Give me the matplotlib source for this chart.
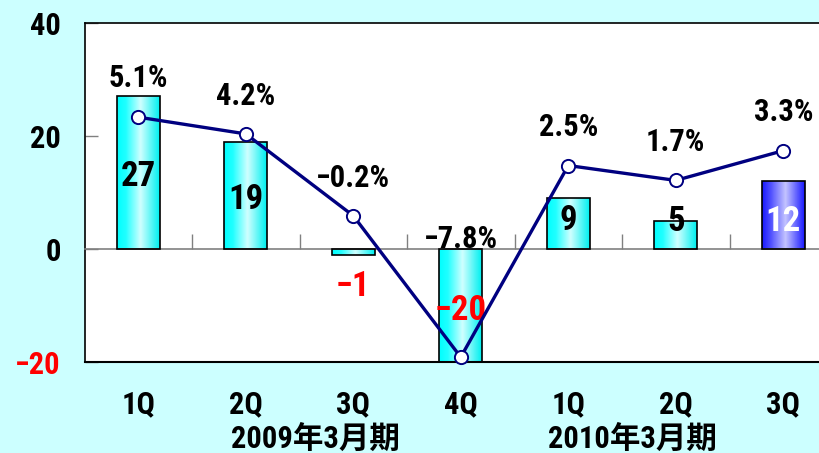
import numpy as np
import matplotlib
matplotlib.use("Agg")
import matplotlib.pyplot as plt
from matplotlib.colors import LinearSegmentedColormap
from matplotlib import font_manager

quarters = ["1Q", "2Q", "3Q", "4Q", "1Q", "2Q", "3Q"]
periods = ["2009年3月期", "2010年3月期"]
period_x = [1.65, 4.6]
profit = [27, 19, -1, -20, 9, 5, 12]
growth = [5.1, 4.2, -0.2, -7.8, 2.5, 1.7, 3.3]
growth_labels = ["5.1%", "4.2%", "−0.2%", "−7.8%", "2.5%", "1.7%", "3.3%"]
# where the number inside / under each bar sits (data units)
value_label_y = [12.9, 8.7, -6.7, -10.8, 5.1, 4.8, 4.8]
# vertical offset of the percent labels (points)
growth_offset = [28, 27, 27, 85, 28, 28, 28]

# look for a narrow face, the original uses a condensed gothic
fonts = font_manager.fontManager.ttflist
names = {f.name for f in fonts}
stretch = "normal"
base = "DejaVu Sans"
for cand in ["Liberation Sans Narrow", "Roboto Condensed", "Open Sans Condensed", "DejaVu Sans Condensed"]:
    if cand in names:
        base = cand
        break
else:
    if any(f.name == "DejaVu Sans" and str(f.stretch) in ("condensed", "semi-condensed", "75", "87")
           for f in fonts):
        stretch = "condensed"

plt.rcParams['font.family'] = [base, 'Noto Sans CJK JP']
plt.rcParams['font.weight'] = 'bold'
plt.rcParams['font.stretch'] = stretch

bg = "#ccffff"
fig = plt.figure(figsize=(8.19, 4.53), dpi=100, facecolor=bg)
ax = fig.add_axes([0.1032, 0.2009, 0.9188, 0.7483])
ax.set_facecolor("white")

x = np.arange(len(profit))
bars = ax.bar(x, profit, width=0.4, facecolor="none", edgecolor="black", linewidth=1.2, zorder=3)

cyan = LinearSegmentedColormap.from_list("c", [(0, "#00ffff"), (0.2, "#20ffff"), (0.55, "#d0ffff"), (1, "#00f0f0")])
blue = LinearSegmentedColormap.from_list("b", [(0, "#1a1aff"), (0.2, "#5050ff"), (0.55, "#c4c4ff"), (1, "#1a1aff")])
grad = np.linspace(0, 1, 64).reshape(1, -1)
for i, b in enumerate(bars):
    cmap = blue if i == len(bars) - 1 else cyan
    y0, y1 = sorted([b.get_y(), b.get_y() + b.get_height()])
    im = ax.imshow(grad, cmap=cmap, aspect="auto", zorder=2,
                   extent=[b.get_x(), b.get_x() + b.get_width(), y0, y1])
    im.set_clip_path(b)

ax.set_xlim(-0.5, len(profit) - 0.5)
ax.set_ylim(-20, 40)
ax.set_yticks([40, 20, 0, -20])
ax.set_yticklabels(["40", "20", "0", "−20"], fontsize=22, fontweight="bold")
ax.get_yticklabels()[-1].set_color("red")
ax.tick_params(axis="y", direction="in", length=9, width=1, color="gray", pad=17)

# zero line with separators between quarters
ax.spines["bottom"].set_position(("data", 0))
ax.spines["bottom"].set_color("gray")
ax.spines["bottom"].set_linewidth(1.2)
ax.set_xticks(x[:-1] + 0.5)
ax.set_xticklabels([])
ax.tick_params(axis="x", direction="in", length=11, width=1, color="gray")
ax.axhline(-20, color="black", lw=1.5, zorder=5, clip_on=False)
for s in ["left", "top"]:
    ax.spines[s].set_linewidth(1.2)
ax.spines["right"].set_visible(False)

for i, v in enumerate(profit):
    col = "red" if v < 0 else ("white" if i == len(profit) - 1 else "black")
    ax.text(i, value_label_y[i], str(v).replace("-", "−"), ha="center", va="center", fontsize=25,
            fontweight="bold", color=col, zorder=10)

tr = ax.get_xaxis_transform()
for i, q in enumerate(quarters):
    ax.text(i, -0.124, q, transform=tr, ha="center", va="center", fontsize=22, fontweight="bold")
for px, p in zip(period_x, periods):
    ax.text(px, -0.228, p, transform=tr, ha="center", va="center", fontsize=22, fontweight="bold")

ax2 = ax.twinx()
ax2.set_ylim(-8.06, 10.16)
ax2.plot(x, growth, color="#000080", lw=2.4, marker="o", ms=9.5, mfc="white",
         mec="#000080", mew=1.4, zorder=6, clip_on=False)
ax2.set_yticks([])
for s in ax2.spines.values():
    s.set_visible(False)
for i, g in enumerate(growth):
    ax2.annotate(growth_labels[i], (i, g), xytext=(0, growth_offset[i]), textcoords="offset points",
                 ha="center", va="center", fontsize=22, fontweight="bold", zorder=10)

fig.savefig("out.png", dpi=100, facecolor=bg)
